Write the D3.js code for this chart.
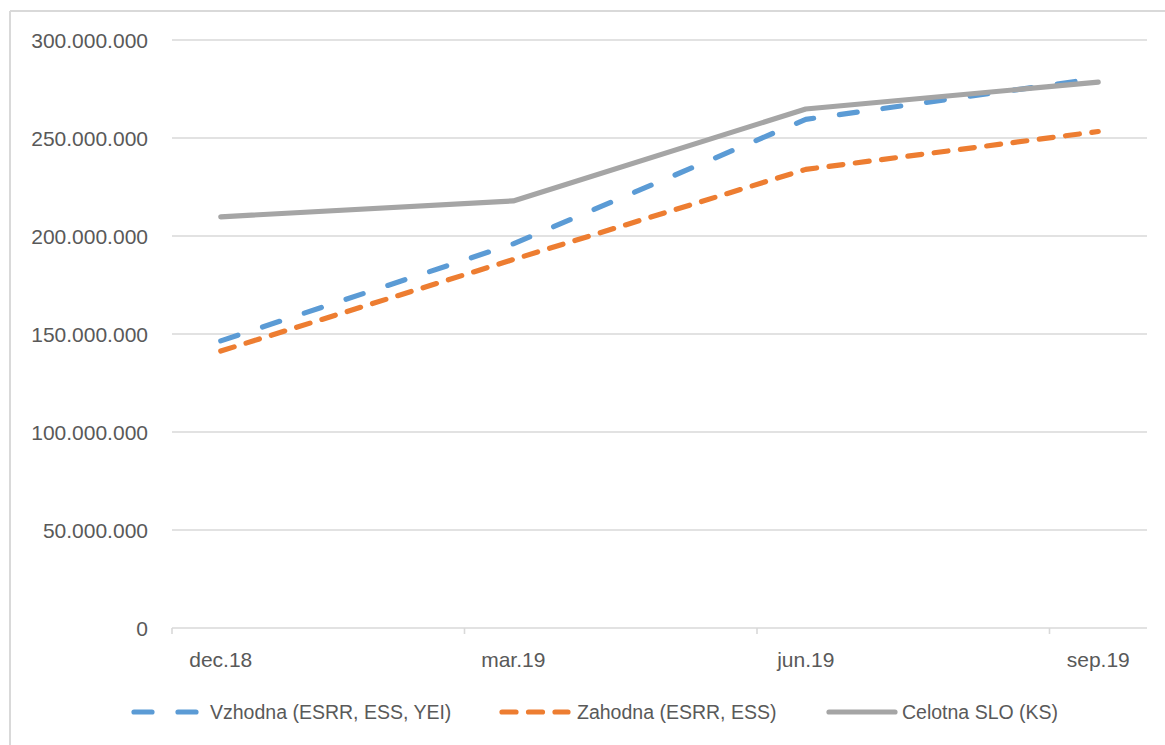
<!DOCTYPE html>
<html>
<head>
<meta charset="utf-8">
<script src="https://cdn.jsdelivr.net/npm/d3@7"></script>
<style>
  html, body { margin: 0; padding: 0; background: #fff; }
  svg { display: block; }
  text { font-family: "Liberation Sans", Arial, sans-serif; fill: #595959; }
</style>
</head>
<body>
<svg id="chart" width="1165" height="745"></svg>
<script>
// ---- data ----
const categories = ["dec.18", "mar.19", "jun.19", "sep.19"];
const months = ["dec.18", "jan.19", "feb.19", "mar.19", "apr.19", "maj.19", "jun.19", "jul.19", "avg.19", "sep.19"];
const vzhodna = [146500000, 196000000, 259500000, 280500000];
const zahodna = [141300000, 188000000, 234000000, 253300000];
const celotna = [209800000, 217900000, 264800000, 278500000];
const seriesNames = ["Vzhodna (ESRR, ESS, YEI)", "Zahodna (ESRR, ESS)", "Celotna SLO (KS)"];
const yTicks = [0, 50000000, 100000000, 150000000, 200000000, 250000000, 300000000];

// ---- layout ----
const svg = d3.select("#chart");
const W = 1165, H = 745;
const plot = { left: 172, right: 1147, top: 40, bottom: 628 };
const grid = "#d9d9d9";

const x = d3.scaleBand().domain(months).range([plot.left, plot.right]).padding(0);
const y = d3.scaleLinear().domain([0, 300000000]).range([plot.bottom, plot.top]);

const loc = d3.formatLocale({ decimal: ",", thousands: ".", grouping: [3], currency: ["", " €"] });
const fmt = loc.format(",d");

// chart area border (left + top visible)
svg.append("line").attr("x1", 10).attr("x2", 10).attr("y1", 11).attr("y2", H)
  .attr("stroke", grid).attr("stroke-width", 2);
svg.append("line").attr("x1", 10).attr("x2", W).attr("y1", 11).attr("y2", 11)
  .attr("stroke", grid).attr("stroke-width", 2);

// gridlines
svg.append("g").selectAll("line").data(yTicks.filter(d => d > 0)).join("line")
  .attr("x1", plot.left).attr("x2", plot.right)
  .attr("y1", d => y(d)).attr("y2", d => y(d))
  .attr("stroke", grid).attr("stroke-width", 1.6);

// y labels
svg.append("g").selectAll("text").data(yTicks).join("text")
  .attr("x", 148).attr("y", d => y(d) + 7.5)
  .attr("text-anchor", "end").attr("font-size", 21)
  .text(d => fmt(d));

// x axis
svg.append("line").attr("x1", plot.left).attr("x2", plot.right)
  .attr("y1", plot.bottom).attr("y2", plot.bottom)
  .attr("stroke", grid).attr("stroke-width", 1.6);
svg.append("g").selectAll("line").data(categories).join("line")
  .attr("x1", d => x(d)).attr("x2", d => x(d))
  .attr("y1", plot.bottom).attr("y2", plot.bottom + 6)
  .attr("stroke", grid).attr("stroke-width", 1.6);
svg.append("g").selectAll("text").data(categories).join("text")
  .attr("x", d => x(d) + x.bandwidth() / 2).attr("y", 667)
  .attr("text-anchor", "middle").attr("font-size", 21)
  .text(d => d);

// series
const series = [
  { name: seriesNames[0], values: vzhodna, color: "#5B9BD5", dash: "18,26" },
  { name: seriesNames[1], values: zahodna, color: "#ED7D31", dash: "14,12.5" },
  { name: seriesNames[2], values: celotna, color: "#A5A5A5", dash: null }
];
const line = d3.line()
  .x((d, i) => x(categories[i]) + x.bandwidth() / 2)
  .y(d => y(d));

series.forEach(s => {
  svg.append("path").datum(s.values)
    .attr("d", line)
    .attr("fill", "none")
    .attr("stroke", s.color)
    .attr("stroke-width", 5.2)
    .attr("stroke-linecap", "round")
    .attr("stroke-linejoin", "round")
    .attr("stroke-dasharray", s.dash);
});

// legend
const legendItems = [
  { lx: 132, tx: 210 },
  { lx: 500, tx: 577 },
  { lx: 827, tx: 902 }
];
const lg = svg.append("g");
series.forEach((s, i) => {
  const it = legendItems[i];
  lg.append("line")
    .attr("x1", it.lx + 2).attr("x2", it.lx + 68)
    .attr("y1", 712).attr("y2", 712)
    .attr("stroke", s.color).attr("stroke-width", 5.2)
    .attr("stroke-linecap", "round")
    .attr("stroke-dasharray", s.dash);
  lg.append("text").attr("x", it.tx).attr("y", 719)
    .attr("font-size", 19.5).text(s.name);
});
</script>
</body>
</html>
